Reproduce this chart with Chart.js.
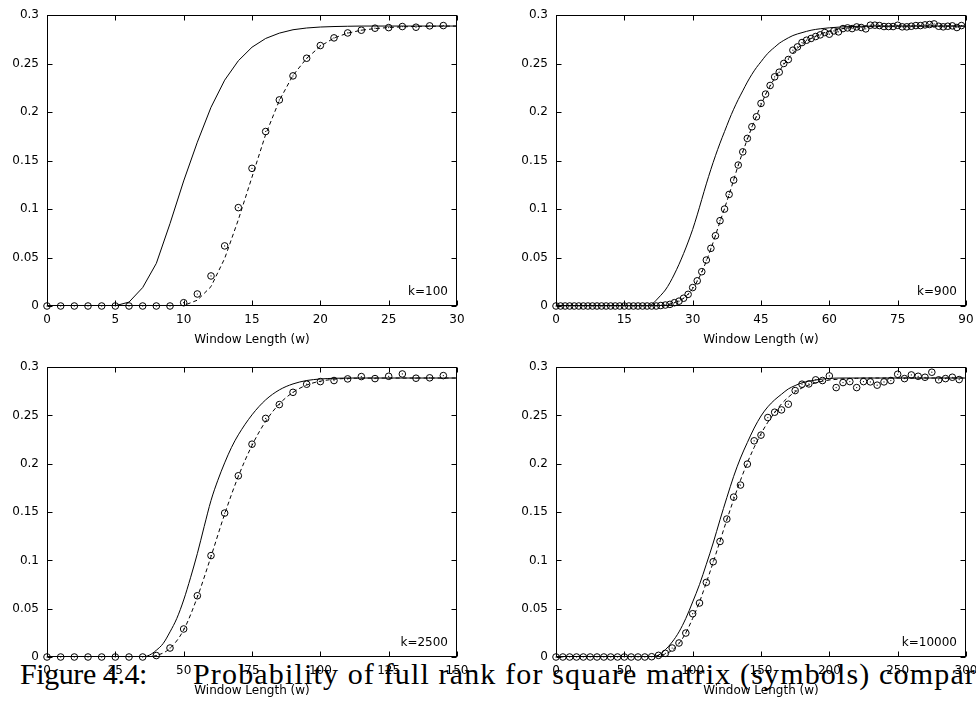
<!DOCTYPE html>
<html>
<head>
<meta charset="utf-8">
<script src="https://cdn.jsdelivr.net/npm/chart.js@4.4.1/dist/chart.umd.min.js"></script>
<style>
  html, body { margin: 0; padding: 0; background: #fff; }
  body { width: 976px; height: 701px; overflow: hidden; position: relative; }
  .panel { position: absolute; }
  #caption { position: absolute; left: 0; top: 659px; width: 976px; height: 42px;
             font-family: "Liberation Serif", "DejaVu Serif", serif; font-size: 30px;
             line-height: 30px; white-space: nowrap; color: #000; }
  #caption span { position: absolute; top: 0; }
</style>
</head>
<body>
<div id="caption"><span id="capA" style="left:20px">Figure 4.4:</span><span id="capB" style="left:193px">Probability of full rank for square matrix (symbols) compared</span></div>
<div class="panel" style="left:0;top:0"><canvas id="c100" width="488" height="352"></canvas></div>
<div class="panel" style="left:509px;top:0"><canvas id="c900" width="510" height="352"></canvas></div>
<div class="panel" style="left:0;top:352px"><canvas id="c2500" width="488" height="352"></canvas></div>
<div class="panel" style="left:509px;top:352px"><canvas id="c10000" width="510" height="352"></canvas></div>
<script>
// k=100 : theory / fit at w = 0..30, simulation at w = 0..29
const w100 = [0,1,2,3,4,5,6,7,8,9,10,11,12,13,14,15,16,17,18,19,20,21,22,23,24,25,26,27,28,29,30];
const theory100 = [0,0,0,0,0,0.0003,0.004,0.019,0.044,0.085,0.129,0.169,0.205,0.233,0.253,0.267,0.276,0.2815,0.285,0.2868,0.2878,0.2883,0.2886,0.2888,0.2888,0.2888,0.2888,0.2888,0.2888,0.2888,0.2888];
const fit100 = [0,0,0,0,0,0,0,0,0,0,0.0005,0.006,0.02,0.049,0.089,0.133,0.177,0.212,0.238,0.2555,0.268,0.2765,0.2815,0.2845,0.2862,0.2873,0.288,0.2884,0.2886,0.2887,0.2888];
const sim100 = [0,0,0,0,0,0,0,0,0,0,0.0034,0.0124,0.031,0.062,0.1015,0.142,0.180,0.2126,0.2374,0.2556,0.2687,0.2766,0.2817,0.2845,0.2866,0.2872,0.2883,0.2876,0.289,0.2893];

// k=900 : simulation at w = 0..89
const theoryW900 = [0,20,21,22,23,24,25,26,27,28,29,30,31,32,33,34,35,36,37,38,39,40,41,42,43,44,45,46,47,48,49,50,52,54,56,58,60,63,66,70,90];
const theory900 = [0,0,0.0015,0.006,0.011,0.0165,0.024,0.033,0.043,0.054,0.066,0.079,0.094,0.110,0.126,0.141,0.155,0.168,0.180,0.192,0.203,0.213,0.222,0.231,0.239,0.246,0.252,0.258,0.263,0.267,0.271,0.274,0.279,0.282,0.2845,0.286,0.287,0.288,0.2885,0.2888,0.2888];
const fitW900 = [0,20,22,24,26,28,30,32,34,36,38,40,42,44,46,48,50,52,54,56,58,60,62,64,66,68,70,75,80,90];
const fit900 = [0,0,0.0003,0.001,0.0035,0.008,0.018,0.035,0.059,0.087,0.115,0.145,0.172,0.196,0.218,0.235,0.249,0.261,0.27,0.276,0.2805,0.2835,0.2855,0.2868,0.2876,0.2881,0.2884,0.2887,0.2888,0.2888];
const sim900 = [0,0,0,0,0,0,0,0,0,0,0,0,0,0,0,0,0,0,0,0,0,0,0,
  0.0005,0.001,0.0017,0.0034,0.005,0.008,0.012,0.019,0.026,0.0354,0.0474,0.0595,0.0725,0.088,0.100,0.1151,0.1299,0.1454,0.159,0.1729,0.1849,0.1952,0.209,0.2186,0.2275,0.2364,0.2412,0.2502,0.2543,0.2639,0.2673,0.2718,0.2742,0.276,0.278,0.2797,0.2821,0.2804,0.2838,0.2828,0.2862,0.2869,0.2862,0.2879,0.2873,0.2859,0.2897,0.2897,0.2893,0.2883,0.2883,0.2883,0.2896,0.288,0.288,0.2886,0.2893,0.2893,0.290,0.2904,0.291,0.2886,0.288,0.2886,0.289,0.2873,0.2893];

// k=2500 : simulation every 5 from 0 to 145
const theoryW2500 = [0,30,35,37.5,40,42.5,45,47.5,50,52.5,55,57.5,60,62.5,65,67.5,70,75,80,85,90,95,100,105,110,150];
const theory2500 = [0,0,0.0002,0.002,0.007,0.014,0.026,0.040,0.059,0.082,0.107,0.135,0.162,0.183,0.201,0.217,0.230,0.2507,0.2662,0.2765,0.2827,0.2862,0.2878,0.2885,0.2888,0.2888];
const fitW2500 = [0,35,40,45,50,55,60,65,70,75,80,85,90,95,100,105,110,115,150];
const fit2500 = [0,0,0.0015,0.009,0.028,0.062,0.104,0.148,0.187,0.219,0.244,0.262,0.274,0.2815,0.2855,0.2875,0.2884,0.2887,0.2888];
const sim2500 = [0,0,0,0,0,0,0,0,0.0015,0.0093,0.029,0.0634,0.105,0.149,0.1876,0.2203,0.247,0.2613,0.274,0.2824,0.2851,0.2862,0.2879,0.2903,0.2882,0.2906,0.293,0.2886,0.289,0.2913];

// k=10000 : simulation every 5 from 0 to 295
const theoryW10000 = [0,65,70,75,80,85,90,95,100,105,110,115,120,125,130,135,140,145,150,155,160,165,170,175,180,185,190,195,200,210,300];
const theory10000 = [0,0,0.0003,0.002,0.0075,0.0155,0.026,0.040,0.057,0.075,0.096,0.118,0.142,0.165,0.187,0.206,0.222,0.237,0.2495,0.259,0.2662,0.272,0.2775,0.281,0.2838,0.2855,0.2868,0.2877,0.2884,0.2888,0.2888];
const fitW10000 = [0,70,75,80,85,90,95,100,105,110,115,120,125,130,135,140,145,150,155,160,165,170,175,180,185,190,195,200,210,220,230,300];
const fit10000 = [0,0,0.001,0.003,0.007,0.014,0.025,0.04,0.057,0.077,0.098,0.12,0.142,0.163,0.183,0.201,0.217,0.231,0.243,0.253,0.262,0.269,0.2745,0.2785,0.2815,0.2838,0.2855,0.2867,0.2879,0.2885,0.2888,0.2888];
const sim10000 = [0,0,0,0,0,0,0,0,0,0,0,0,0,0,
  0.0003,0.0017,0.0038,0.0093,0.0145,0.0248,0.0448,0.0559,0.0772,0.0986,0.1196,0.1428,0.1655,0.178,0.1997,0.2238,0.2297,0.2479,0.2534,0.2558,0.2617,0.2758,0.2824,0.2827,0.2869,0.2862,0.291,0.2789,0.2841,0.2851,0.2789,0.2851,0.2848,0.2814,0.2848,0.2862,0.2927,0.2882,0.292,0.2906,0.2896,0.2948,0.2869,0.2882,0.2896,0.2872];

const yTicks = [0, 0.05, 0.1, 0.15, 0.2, 0.25, 0.3];

Chart.defaults.font.family = '"DejaVu Sans", sans-serif';
Chart.defaults.font.size = 12;
Chart.defaults.color = '#000';

function pairs(xs, ys) { return ys.map((y, i) => ({ x: xs[i], y: y })); }
function stepPairs(step, ys) { return ys.map((y, i) => ({ x: i * step, y: y })); }

// box around the plot with gnuplot-style inward ticks, plus the k= label
const framePlugin = {
    id: 'frame',
    afterDatasetsDraw(chart, args, opts) {
        const ctx = chart.ctx;
        const a = chart.chartArea;
        const L = Math.round(a.left) + 0.5, R = Math.round(a.right) - 0.5;
        const T = Math.round(a.top) + 0.5, B = Math.round(a.bottom) - 0.5;
        const len = 5;
        ctx.save();
        ctx.strokeStyle = '#000';
        ctx.lineWidth = 1;
        ctx.strokeRect(L, T, R - L, B - T);
        ctx.beginPath();
        chart.scales.x.ticks.forEach(t => {
            const px = Math.round(chart.scales.x.getPixelForValue(t.value)) + 0.5;
            ctx.moveTo(px, B); ctx.lineTo(px, B - len);
            ctx.moveTo(px, T); ctx.lineTo(px, T + len);
        });
        chart.scales.y.ticks.forEach(t => {
            const py = Math.round(chart.scales.y.getPixelForValue(t.value)) + 0.5;
            ctx.moveTo(L, py); ctx.lineTo(L + len, py);
            ctx.moveTo(R, py); ctx.lineTo(R - len, py);
        });
        ctx.stroke();
        ctx.fillStyle = '#000';
        ctx.font = '12px "DejaVu Sans", sans-serif';
        ctx.textAlign = 'right';
        ctx.textBaseline = 'middle';
        ctx.fillText(opts.label, a.right - 9, a.bottom - 14);
        ctx.restore();
    }
};

function makePanel(id, label, xMax, xStep, padRight, padBottom, theory, fit, sim, smooth) {
    const lineBase = { borderColor: '#000', borderWidth: 1, pointRadius: 0, fill: false };
    const curve = smooth ? { cubicInterpolationMode: 'monotone' } : { tension: 0 };
    new Chart(document.getElementById(id), {
        type: 'line',
        data: {
            datasets: [
                Object.assign({ label: 'theory', data: theory }, lineBase, curve),
                Object.assign({ label: 'fit', data: fit, borderDash: [4, 3] }, lineBase, curve),
                {
                    label: 'simulation', data: sim, showLine: false,
                    pointStyle: 'circle', pointRadius: 3.3, borderWidth: 1,
                    borderColor: '#000', backgroundColor: 'rgba(0,0,0,0)', clip: false
                },
                {
                    label: 'simulation dot', data: sim, showLine: false,
                    pointStyle: 'circle', pointRadius: 0.6, borderWidth: 0,
                    backgroundColor: '#000', clip: false
                }
            ]
        },
        options: {
            responsive: false,
            animation: false,
            events: [],
            layout: { padding: { left: 0, top: 15, right: padRight, bottom: padBottom } },
            plugins: {
                legend: { display: false },
                tooltip: { enabled: false },
                frame: { label: label }
            },
            scales: {
                x: {
                    type: 'linear', min: 0, max: xMax,
                    ticks: { stepSize: xStep, padding: 7, maxRotation: 0 },
                    grid: { display: false, drawTicks: false },
                    border: { display: false },
                    title: { display: true, text: 'Window Length (w)', padding: 0 },
                    afterFit(s) { s.height = 41; }
                },
                y: {
                    type: 'linear', min: 0, max: 0.3,
                    afterBuildTicks(s) { s.ticks = yTicks.map(v => ({ value: v })); },
                    ticks: { padding: 8, callback: v => String(+v.toFixed(2)) },
                    grid: { display: false, drawTicks: false },
                    border: { display: false },
                    afterFit(s) { s.width = 47; }
                }
            }
        },
        plugins: [framePlugin]
    });
}

makePanel('c100', 'k=100', 30, 5, 31, 5,
    pairs(w100, theory100), pairs(w100, fit100), stepPairs(1, sim100), false);
makePanel('c900', 'k=900', 90, 15, 53, 5,
    pairs(theoryW900, theory900), pairs(fitW900, fit900), stepPairs(1, sim900), true);
makePanel('c2500', 'k=2500', 150, 25, 31, 6,
    pairs(theoryW2500, theory2500), pairs(fitW2500, fit2500), stepPairs(5, sim2500), true);
makePanel('c10000', 'k=10000', 300, 50, 53, 6,
    pairs(theoryW10000, theory10000), pairs(fitW10000, fit10000), stepPairs(5, sim10000), true);

// stretch the caption words to the spacing of the typeset original
function fitSpan(id, text, target) {
    const el = document.getElementById(id);
    const g = document.createElement('canvas').getContext('2d');
    const cs = getComputedStyle(el);
    g.font = cs.fontSize + ' ' + cs.fontFamily;
    const w = g.measureText(text).width;
    el.style.letterSpacing = ((target - w) / text.length) + 'px';
}
fitSpan('capA', 'Figure 4.4:', 127);
fitSpan('capB', 'Probability of full rank for square matrix (symbols) compar', 783);
</script>
</body>
</html>
